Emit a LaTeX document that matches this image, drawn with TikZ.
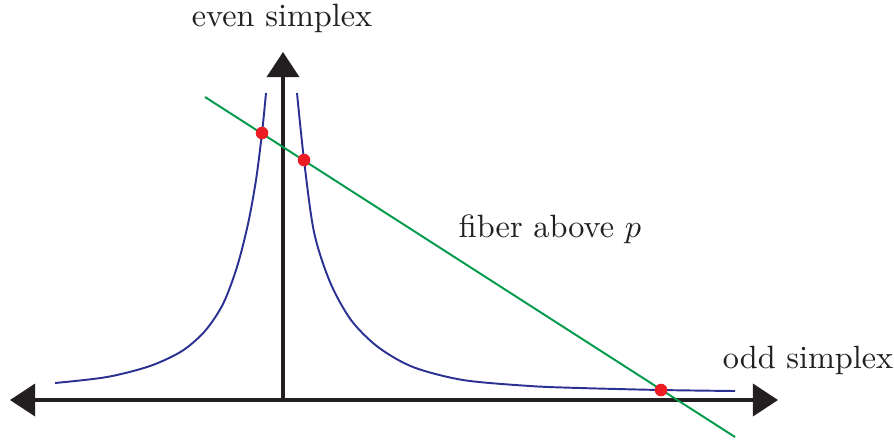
\documentclass[tikz,border=0pt]{standalone}
\usetikzlibrary{arrows.meta}
\definecolor{axisgray}{RGB}{35,31,32}
\definecolor{curveblue}{RGB}{43,49,146}
\definecolor{fibergreen}{RGB}{0,154,73}
\definecolor{dotred}{RGB}{237,28,36}
\begin{document}
\begin{tikzpicture}[
        x=0.31pt, y=-0.31pt,
        axis/.style={draw=axisgray, line width=1pt, -{Triangle[length=7.8pt, width=10pt]}},
        hyper/.style={draw=curveblue, line width=0.6pt},
        fiber/.style={draw=fibergreen, line width=0.6pt},
        dot/.style={circle, fill=dotred, inner sep=0pt, minimum size=3.9pt},
        lbl/.style={inner sep=0pt, anchor=base, text=axisgray},
    ]
    \useasboundingbox (0,0) rectangle (894,442);
    % axes
    \coordinate (O) at (283,400);
    \coordinate (xl) at (10,400);
    \coordinate (xr) at (778,400);
    \coordinate (yt) at (283,52);
    \draw[axis] (O) to (xl);
    \draw[axis] (O) to (xr);
    \draw[axis] (O) to (yt);
    \node[lbl](even) at (282,26){even simplex};
    \node[lbl](odd) at (808,368){odd simplex};
    % the two branches
    \draw[hyper] plot[smooth, tension=0.5] coordinates {
        (55,383) (107,377) (150,366) (182,351) (205,331) (223,304)
        (237,267) (248,224) (256,180) (262,133) (266,93)};
    \draw[hyper] plot[smooth, tension=0.5] coordinates {
        (297,93) (304,160) (314,232) (330,282) (351,320) (378,347)
        (413,367) (463,380) (530,386) (580,388) (661,390) (735,391)};
    % fiber
    \coordinate (fa) at (205,97);
    \coordinate (fb) at (735,437);
    \draw[fiber] (fa) to (fb);
    \node[lbl](fib) at (550,237){fiber above $p$};
    \node[dot](p1) at (262,133){};
    \node[dot](p2) at (304,160){};
    \node[dot](p3) at (661,390){};
\end{tikzpicture}
\end{document}
